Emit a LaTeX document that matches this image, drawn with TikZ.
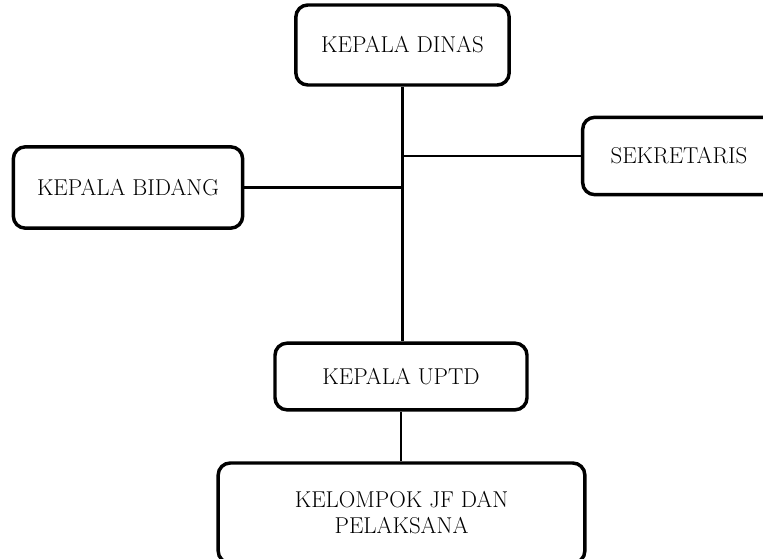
\documentclass[tikz,border=0pt]{standalone}
\usepackage{tikz}

\begin{document}
\begin{tikzpicture}[x=0.75pt,y=-0.75pt]
 \tikzset{unit box/.style 2 args={
    draw, line width=2.6pt, rounded corners=9pt,
    minimum width=#1, minimum height=#2,
    align=center, inner sep=0pt,
    font=\fontsize{17.2}{19.5}\selectfont
  },
  link/.style={line width=2.2pt}
}
\useasboundingbox (0,0) rectangle (763,559);
\clip (0,0) rectangle (763,559);

\node[unit box={160pt}{60pt}] (dinas) at (402.5,45) {KEPALA DINAS};
\node[unit box={152pt}{58pt}] (sekretaris) at (684,156) {\hspace*{-7.5pt}SEKRETARIS};
\node[unit box={172pt}{61pt}] (bidang) at (128,187.5) {KEPALA BIDANG};
\node[unit box={189pt}{50pt}] (uptd) at (401,376.5) {KEPALA UPTD};
\node[unit box={275pt}{75pt}] (kelompok) at (401.5,513) {KELOMPOK JF DAN\\PELAKSANA};

% garis
\draw[link] (dinas.south) -- (dinas.south |- uptd.north);
\draw[link] (sekretaris.west -| dinas.south) -- (sekretaris.west);
\draw[link] (bidang.east) -- (bidang.east -| dinas.south);
\draw[link] (uptd.south) -- (uptd.south |- kelompok.north);
\end{tikzpicture}
\end{document}
